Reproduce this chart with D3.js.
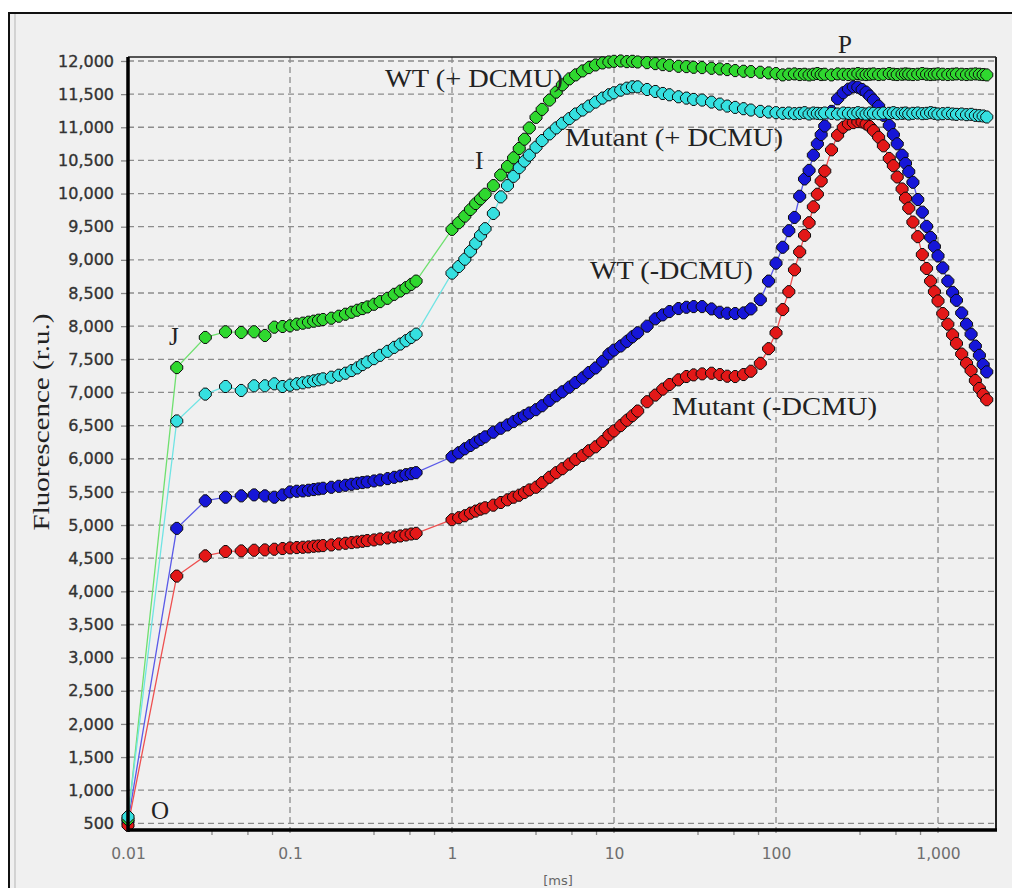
<!DOCTYPE html>
<html>
<head>
<meta charset="utf-8">
<script src="https://cdn.jsdelivr.net/npm/d3@7"></script>
<style>
html, body { margin: 0; padding: 0; background: #fff; }
svg { display: block; }
</style>
</head>
<body>
<svg id="chart"></svg>
<script>
// time points (ms), shared by all four traces
let timeMs = [
  0.01, 0.02, 0.03, 0.04, 0.05, 0.06, 0.07, 0.08, 0.09, 0.1,
  0.11, 0.12, 0.13, 0.14, 0.15, 0.16, 0.18, 0.2, 0.22, 0.24,
  0.26, 0.28, 0.3, 0.33, 0.36, 0.4, 0.44, 0.48, 0.52, 0.56,
  0.6,
  1, 1.1, 1.2, 1.3, 1.4, 1.5, 1.6, 1.8, 2, 2.2,
  2.4, 2.6, 2.8, 3, 3.3, 3.6, 4, 4.4, 4.8, 5.3,
  5.8, 6.4, 7, 7.7, 8.5, 9.3,
  10, 11, 12, 13, 14, 16, 18, 20, 22, 25,
  28, 31, 35, 40, 45, 50, 56, 63, 70, 80,
  90,
  100, 110, 120, 130, 140, 150, 160, 170, 180, 190,
  200, 220, 240, 260, 280, 300, 320, 340, 360, 380,
  400, 430, 460, 500, 530, 560, 600, 630, 660, 700,
  750, 800, 850, 900, 950, 1000, 1070, 1150, 1230, 1300,
  1400, 1500, 1600, 1700, 1800, 1900, 2000
]

// WT (+ DCMU)  - green
let wtDcmu = [
  560, 7375, 7830, 7915, 7905, 7915, 7860, 7985, 7995, 8005,
  8030, 8045, 8060, 8075, 8090, 8100, 8120, 8150, 8180, 8210,
  8240, 8265, 8290, 8330, 8370, 8420, 8480, 8530, 8580, 8630,
  8680,
  9460, 9560, 9660, 9760, 9850, 9920, 9990, 10120, 10280, 10410,
  10540, 10680, 10820, 10990, 11150, 11270, 11410, 11530, 11640, 11730,
  11790, 11850, 11900, 11940, 11970, 11985,
  11995, 12000, 11990, 11995, 11985, 11975, 11960, 11945, 11935, 11920,
  11915, 11905, 11900, 11890, 11880, 11870, 11855, 11845, 11840, 11830,
  11820,
  11810, 11790, 11800, 11805, 11795, 11800, 11790, 11800, 11810, 11795,
  11800, 11790, 11805, 11800, 11795, 11800, 11810, 11800, 11795, 11800,
  11805, 11795, 11800, 11810, 11800, 11795, 11800, 11805, 11800, 11795,
  11800, 11810, 11800, 11795, 11800, 11805, 11800, 11795, 11800, 11805,
  11800, 11795, 11800, 11805, 11800, 11795, 11790
]

// Mutant (+ DCMU) - cyan
let mutDcmu = [
  600, 6570, 6975, 7090, 7030, 7100, 7100, 7130, 7090, 7110,
  7130, 7145, 7160, 7175, 7190, 7205, 7230, 7260, 7290, 7330,
  7370, 7420, 7460, 7510, 7560, 7620, 7680, 7730, 7780, 7830,
  7880,
  8800, 8900, 9010, 9130, 9250, 9370, 9470, 9700, 9950, 10120,
  10260, 10390, 10490, 10580, 10700, 10800, 10900, 10990, 11060, 11130,
  11200, 11260, 11320, 11380, 11440, 11490,
  11520, 11560, 11590, 11610, 11610, 11570, 11540, 11510, 11490, 11460,
  11440, 11420, 11410, 11380, 11350, 11320, 11300, 11280, 11260, 11240,
  11230,
  11220, 11210, 11215, 11205, 11210, 11220, 11200, 11215, 11210, 11205,
  11215, 11210, 11200, 11215, 11210, 11205, 11220, 11210, 11200, 11215,
  11210, 11205, 11215, 11210, 11220, 11205, 11210, 11215, 11200, 11210,
  11215, 11205, 11210, 11220, 11210, 11200, 11205, 11210, 11200, 11195,
  11200, 11190, 11195, 11180, 11175, 11170, 11155
]

// WT (-DCMU) - blue
let wtNoDcmu = [
  530, 4950, 5365, 5420, 5440, 5455, 5440, 5420, 5455, 5500,
  5510, 5515, 5525, 5535, 5545, 5555, 5570, 5585, 5600, 5615,
  5630, 5640, 5650, 5665, 5680, 5700, 5720, 5740, 5760, 5775,
  5790,
  6030, 6090, 6150, 6200, 6250, 6290, 6330, 6400, 6460, 6510,
  6560, 6610, 6650, 6690, 6740, 6800, 6880, 6950, 7010, 7080,
  7150, 7220, 7300, 7370, 7470, 7580,
  7640, 7700, 7770, 7840, 7900, 8000, 8110, 8170, 8220, 8265,
  8285, 8295, 8295, 8260, 8210, 8195, 8190, 8200, 8260, 8400,
  8680,
  8950, 9190, 9440, 9640, 9960, 10220, 10350, 10580, 10750, 10890,
  11020, 11240, 11430, 11520, 11575, 11610, 11605, 11570, 11530, 11470,
  11410, 11320, 11180, 11030, 10890, 10750, 10580, 10455, 10330, 10170,
  9910, 9720, 9505, 9340, 9200, 9060, 8880, 8680, 8510, 8390,
  8200, 8030, 7880, 7700, 7560, 7420, 7310
]

// Mutant (-DCMU) - red
let mutNoDcmu = [
  470, 4230, 4535, 4600, 4610, 4620, 4625, 4635, 4645, 4655,
  4660, 4665, 4670, 4680, 4685, 4690, 4700, 4715, 4725, 4735,
  4745, 4755, 4765, 4775, 4790, 4805, 4820, 4835, 4850, 4865,
  4875,
  5080, 5110, 5140, 5180, 5210, 5240, 5260, 5300, 5340, 5380,
  5420, 5450, 5490, 5530, 5570, 5640, 5720, 5790, 5850, 5920,
  5990, 6050, 6120, 6180, 6260, 6360,
  6420, 6500, 6580, 6650, 6720, 6860, 6960, 7050, 7120, 7190,
  7240, 7265, 7280, 7290, 7270, 7245, 7240, 7270, 7320, 7440,
  7660,
  7900, 8250, 8520, 8850, 9120, 9370, 9560, 9800, 9990, 10190,
  10340, 10660, 10880, 11000, 11050, 11070, 11085, 11080, 11050, 11010,
  10950, 10850, 10720, 10530, 10420, 10250, 10070, 9930, 9780, 9570,
  9350, 9080, 8870, 8680, 8520, 8380, 8190, 8030, 7870, 7740,
  7580, 7440, 7330, 7180, 7060, 6970, 6890
]

let yTicks = [500, 1000, 1500, 2000, 2500, 3000, 3500, 4000, 4500, 5000, 5500, 6000,
              6500, 7000, 7500, 8000, 8500, 9000, 9500, 10000, 10500, 11000, 11500, 12000]
let xTicks = [0.01, 0.1, 1, 10, 100, 1000]
let xTickLabels = ["0.01", "0.1", "1", "10", "100", "1,000"]
let minorSteps = [3.3, 5.5, 7.8]

let width = 1012
let height = 888
let plotLeft = 128, plotRight = 996, plotTop = 57, plotBottom = 830

let svg = d3.select("#chart").attr("width", width).attr("height", height)

// window frame
svg.append("rect")
   .attr("x", 9).attr("y", 13)
   .attr("width", 1030).attr("height", 900)
   .attr("fill", "#f0f0f0")
   .attr("stroke", "#111")
   .attr("stroke-width", 2)
svg.append("line")
   .attr("x1", 15).attr("x2", 15).attr("y1", 14).attr("y2", height)
   .attr("stroke", "#b5b5b5")

let xScale = d3.scaleLog().domain([0.01, 2280]).range([plotLeft, plotRight])
let yScale = d3.scaleLinear().domain([400, 12060]).range([plotBottom, plotTop])

// grid
let grid = svg.append("g").attr("stroke", "#8c8c8c").attr("stroke-width", 1.3).attr("stroke-dasharray", "6,4")
grid.selectAll(".hgrid")
    .data(yTicks)
    .enter()
    .append("line")
    .attr("x1", plotLeft).attr("x2", plotRight)
    .attr("y1", d => yScale(d)).attr("y2", d => yScale(d))
grid.selectAll(".vgrid")
    .data(xTicks.slice(1))
    .enter()
    .append("line")
    .attr("x1", d => xScale(d)).attr("x2", d => xScale(d))
    .attr("y1", plotTop).attr("y2", plotBottom + 6)

// y axis
let yAxis = d3.axisLeft(yScale).tickValues(yTicks).tickFormat(d3.format(",")).tickSize(7).tickPadding(7)
let gy = svg.append("g")
   .attr("transform", "translate(" + plotLeft + ",0)")
   .call(yAxis)
gy.select(".domain").remove()
gy.selectAll(".tick line").attr("stroke", "#888").attr("stroke-width", 1.3)
gy.selectAll(".tick text")
  .attr("fill", "#333")
  .attr("stroke", "#333")
  .attr("stroke-width", 0.35)
  .style("font-family", "'DejaVu Sans', sans-serif")
  .style("font-size", "16px")

// x axis
let xAxis = d3.axisBottom(xScale).tickValues(xTicks).tickFormat((d, i) => xTickLabels[i]).tickSize(0)
let gx = svg.append("g")
   .attr("transform", "translate(0," + plotBottom + ")")
   .call(xAxis)
gx.select(".domain").remove()
gx.selectAll(".tick text")
  .attr("y", 18)
  .attr("fill", "#6e6e6e")
  .style("font-family", "'DejaVu Sans', sans-serif")
  .style("font-size", "15.5px")

let minor = []
xTicks.forEach(b => minorSteps.forEach(s => { if (b * s < 2280) minor.push(b * s) }))
svg.append("g").selectAll("line")
   .data(minor)
   .enter()
   .append("line")
   .attr("x1", d => xScale(d)).attr("x2", d => xScale(d))
   .attr("y1", plotBottom).attr("y2", plotBottom + 5)
   .attr("stroke", "#888").attr("stroke-width", 1.3)

svg.append("text")
   .attr("x", 558).attr("y", 885)
   .attr("text-anchor", "middle")
   .attr("fill", "#666")
   .style("font-family", "'DejaVu Sans', sans-serif")
   .style("font-size", "13px")
   .text("[ms]")

// plot border
svg.append("line").attr("x1", plotLeft).attr("x2", plotRight).attr("y1", plotTop).attr("y2", plotTop)
   .attr("stroke", "#222").attr("stroke-width", 1.6)
svg.append("line").attr("x1", plotRight).attr("x2", plotRight).attr("y1", plotTop).attr("y2", plotBottom)
   .attr("stroke", "#222").attr("stroke-width", 2)

// series
let series = [
  { name: "wtNoDcmu", values: wtNoDcmu, fill: "#1616d8", line: "#5a5ae8" },
  { name: "mutNoDcmu", values: mutNoDcmu, fill: "#e31818", line: "#ee5050" },
  { name: "wtDcmu", values: wtDcmu, fill: "#2fd82f", line: "#6fe06f" },
  { name: "mutDcmu", values: mutDcmu, fill: "#35e0e0", line: "#70e4e4" }
]
series.forEach(s => { s.points = timeMs.map((t, i) => ({ t: t, v: s.values[i] })) })

let line = d3.line().x(d => xScale(d.t)).y(d => yScale(d.v))

svg.append("g").selectAll("path")
   .data(series)
   .enter()
   .append("path")
   .attr("d", d => line(d.points))
   .attr("fill", "none")
   .attr("stroke", d => d.line)
   .attr("stroke-width", 1.3)

// diamond with clipped tips
let r = 6, c = 0.28 * r
let marker = "M" + [[-c, -r], [c, -r], [r, -c], [r, c], [c, r], [-c, r], [-r, c], [-r, -c]]
  .map(p => p.join(",")).join("L") + "Z"

series.forEach(s => {
  svg.append("g")
     .attr("class", s.name)
     .selectAll("path")
     .data(s.points)
     .enter()
     .append("path")
     .attr("d", marker)
     .attr("transform", d => "translate(" + xScale(d.t) + "," + yScale(d.v) + ")")
     .attr("fill", s.fill)
     .attr("stroke", "#0c0c0c")
     .attr("stroke-width", 1)
})

// axis lines (thick)
svg.append("line").attr("x1", plotLeft).attr("x2", plotLeft).attr("y1", plotTop).attr("y2", plotBottom + 1.5)
   .attr("stroke", "#000").attr("stroke-width", 3.5)
svg.append("line").attr("x1", plotLeft).attr("x2", plotRight + 1).attr("y1", plotBottom).attr("y2", plotBottom)
   .attr("stroke", "#000").attr("stroke-width", 3.5)

// annotations
let notes = [
  { text: "WT (+ DCMU)", x: 385, y: 87, w: 178 },
  { text: "Mutant (+ DCMU)", x: 565, y: 146, w: 218 },
  { text: "I", x: 475, y: 169 },
  { text: "J", x: 169, y: 345 },
  { text: "O", x: 151, y: 819 },
  { text: "P", x: 838, y: 53 },
  { text: "WT (-DCMU)", x: 590, y: 279, w: 163 },
  { text: "Mutant (-DCMU)", x: 672, y: 415, w: 205 }
]
svg.append("g").selectAll("text")
   .data(notes)
   .enter()
   .append("text")
   .attr("x", d => d.x).attr("y", d => d.y)
   .attr("fill", "#222")
   .style("font-family", "'Liberation Serif', 'Times New Roman', serif")
   .style("font-size", "25px")
   .each(function (d) {
     if (d.w) d3.select(this).attr("textLength", d.w).attr("lengthAdjust", "spacingAndGlyphs")
   })
   .text(d => d.text)

svg.append("text")
   .attr("transform", "translate(41,422) rotate(-90)")
   .attr("text-anchor", "middle")
   .attr("dominant-baseline", "central")
   .attr("textLength", 217)
   .attr("lengthAdjust", "spacingAndGlyphs")
   .attr("fill", "#222")
   .style("font-family", "'Liberation Serif', 'Times New Roman', serif")
   .style("font-size", "23px")
   .text("Fluorescence (r.u.)")
</script>
</body>
</html>
